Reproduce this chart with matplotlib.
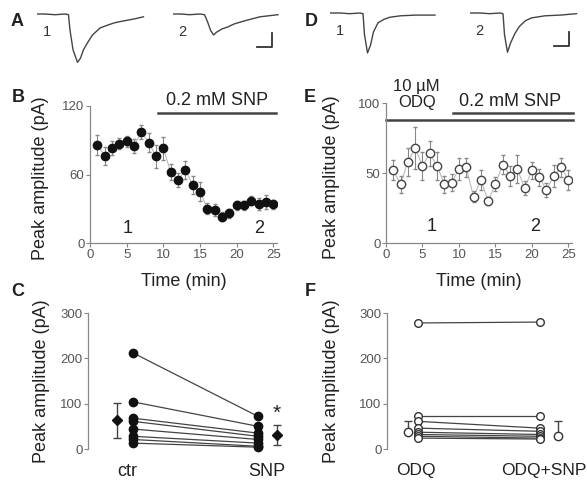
import numpy as np
import matplotlib.pyplot as plt

plt.rcParams['font.family'] = ['Liberation Sans', 'DejaVu Sans']

W, H = 587, 487

# --- example EPSC traces (time in ms, current in pA) ---
a1_t = [0, 5, 12, 19, 21, 22, 24, 27, 29, 31, 34, 37, 42, 47, 51, 55, 60, 65, 71]
a1_i = [0, 0, -1, 0, -1, -23, -51, -69, -63, -51, -40, -30, -20, -16, -13, -11, -9, -7, -4]
a2_t = [0, 5, 11, 18, 21, 23, 25, 27, 29, 33, 36, 41, 49, 58, 70]
a2_i = [0, 0, -1, 0, -1, -11, -23, -30, -26, -21, -19, -14, -9, -4, -1]
d1_t = [0, 7, 13, 20, 22, 23, 25, 27, 29, 32, 36, 40, 47, 57, 70]
d1_i = [0, 0, -1, 0, -1, -31, -57, -46, -27, -14, -9, -6, -4, -3, -3]
d2_t = [0, 7, 13, 20, 22, 23, 25, 27, 30, 33, 37, 41, 50, 60, 71]
d2_i = [0, 0, -1, 0, -1, -31, -56, -43, -29, -19, -11, -7, -4, -3, -1]

# --- time courses ---
time_min = np.arange(1, 26)
b_amp = [86, 76, 83, 87, 89, 85, 97, 88, 76, 83, 62, 55, 64, 51, 45,
         30, 29, 23, 26, 33, 33, 37, 34, 36, 34]
b_err = [9, 8, 6, 5, 5, 6, 6, 8, 10, 10, 7, 6, 8, 8, 8,
         5, 5, 4, 4, 4, 4, 4, 5, 6, 4]
e_amp = [52, 42, 58, 68, 55, 64, 55, 42, 43, 53, 54, 33, 45, 30, 42,
         56, 48, 53, 39, 52, 47, 38, 48, 54, 45]
e_err = [7, 6, 10, 15, 10, 9, 10, 6, 6, 8, 7, 4, 7, 3, 5,
         7, 7, 10, 5, 6, 6, 5, 8, 7, 7]

# --- paired cells ---
c_ctr = [212, 104, 68, 61, 44, 28, 21, 13]
c_snp = [72, 50, 35, 28, 21, 13, 6, 4]
c_mean = [63, 31]
c_sem = [38, 22]
f_odq = [278, 72, 61, 46, 37, 32, 28, 24]
f_snp = [280, 72, 46, 39, 32, 28, 24, 22]
f_mean = [37, 28]
f_sem = [24, 33]

fig = plt.figure(figsize=(W / 100, H / 100), dpi=100)

def box(left, top, right, bottom):
    return [left / W, 1 - bottom / H, (right - left) / W, (bottom - top) / H]

tick_col = '#555555'
spine_col = '#888888'
lab = 13

def style(ax):
    for s in ['top', 'right']:
        ax.spines[s].set_visible(False)
    for s in ['left', 'bottom']:
        ax.spines[s].set_color(spine_col)
        ax.spines[s].set_linewidth(0.9)
    ax.tick_params(colors=spine_col, labelcolor=tick_col, labelsize=9.5,
                   length=3, width=0.8, pad=1)

# --- traces ---
def trace(left, base, t, i, num, scalebar=False):
    ax = fig.add_axes(box(left, base - 3.5, left + 112.5, base + 52.5))
    ax.plot(t, i, color='#444444', lw=1.0)
    ax.set_xlim(0, 75)
    ax.set_ylim(-75, 5)
    ax.axis('off')
    ax.text(6.5, -26, num, fontsize=10.5, color='#333333', va='center',
            ha='center')
    if scalebar:
        x0, y0 = 66, -47
        ax.plot([x0 - 10, x0, x0], [y0, y0, y0 + 20], color='#333333',
                lw=1.3, clip_on=False)

trace(37, 14, a1_t, a1_i, '1')
trace(173, 14, a2_t, a2_i, '2', scalebar=True)
trace(330, 13, d1_t, d1_i, '1')
trace(470, 13, d2_t, d2_i, '2', scalebar=True)

# --- B ---
axb = fig.add_axes(box(90, 106, 277, 243))
style(axb)
axb.errorbar(time_min, b_amp, yerr=b_err, fmt='o', color='#111111', ms=6,
             ecolor='#888888', elinewidth=0.8, capsize=1.5, zorder=3)
axb.plot(time_min, b_amp, color='#bbbbbb', lw=0.8, zorder=1)
axb.set_xlim(0, 25.5)
axb.set_ylim(0, 120)
axb.set_xticks([0, 5, 10, 15, 20, 25])
axb.set_yticks([0, 60, 120])
axb.plot([9.3, 25.4], [113.6, 113.6], color='#444444', lw=1.8, clip_on=False)
axb.text(17.3, 117, '0.2 mM SNP', fontsize=lab, color='#222222',
         ha='center', va='bottom')
axb.text(5.1, 13, '1', fontsize=lab, color='#222222', ha='center', va='center')
axb.text(23.1, 13, '2', fontsize=lab, color='#222222', ha='center', va='center')
axb.set_xlabel('Time (min)', fontsize=lab, color='#222222', labelpad=9)
axb.set_ylabel('Peak amplitude (pA)', fontsize=lab, color='#222222')
axb.yaxis.set_label_coords(-41 / 187, 0.47)

# --- E ---
axe = fig.add_axes(box(386, 103, 572, 243))
style(axe)
axe.errorbar(time_min, e_amp, yerr=e_err, fmt='o', mfc='white', mec='#444444',
             mew=1.0, ms=6, ecolor='#888888', elinewidth=0.8, capsize=1.5,
             zorder=3)
axe.plot(time_min, e_amp, color='#bbbbbb', lw=0.8, zorder=1)
axe.set_xlim(0, 25.5)
axe.set_ylim(0, 100)
axe.set_xticks([0, 5, 10, 15, 20, 25])
axe.set_yticks([0, 50, 100])
axe.plot([0, 25.7], [88, 88], color='#444444', lw=1.8, clip_on=False)
axe.plot([9.25, 25.7], [93, 93], color='#444444', lw=1.8, clip_on=False)
axe.text(4.2, 95, '10 \u00b5M\nODQ', fontsize=12, color='#222222',
         ha='center', va='bottom', linespacing=1.1)
axe.text(17.0, 95, '0.2 mM SNP', fontsize=lab, color='#222222',
         ha='center', va='bottom')
axe.text(6.3, 12, '1', fontsize=lab, color='#222222', ha='center', va='center')
axe.text(20.5, 12, '2', fontsize=lab, color='#222222', ha='center', va='center')
axe.set_xlabel('Time (min)', fontsize=lab, color='#222222', labelpad=9)
axe.set_ylabel('Peak amplitude (pA)', fontsize=lab, color='#222222')
axe.yaxis.set_label_coords(-46 / 186, 0.47)

# --- C ---
axc = fig.add_axes(box(88, 313, 295.5, 449))
style(axc)
axc.spines['bottom'].set_visible(False)
for a, b in zip(c_ctr, c_snp):
    axc.plot([1, 2], [a, b], '-o', color='#444444', lw=0.9, mfc='#111111',
             mec='#111111', ms=6, clip_on=False)
axc.errorbar([0.87, 2.15], c_mean, yerr=c_sem, fmt='D', color='#111111', ms=5,
             ecolor='#444444', elinewidth=1.0, capsize=3, clip_on=False)
axc.text(2.15, c_mean[1] + c_sem[1] + 4, '*', fontsize=15, color='#222222',
         ha='center', va='bottom')
axc.set_xlim(0.64, 2.3)
axc.set_ylim(0, 300)
axc.set_yticks([0, 100, 200, 300])
axc.set_xticks([0.95, 2.07])
axc.set_xticklabels(['ctr', 'SNP'], fontsize=lab, color='#222222')
axc.tick_params(axis='x', length=0, pad=10)
axc.set_ylabel('Peak amplitude (pA)', fontsize=lab, color='#222222')
axc.yaxis.set_label_coords(-38 / 207.5, 0.5)

# --- F ---
axf = fig.add_axes(box(387, 313, 576.6, 449))
style(axf)
axf.spines['bottom'].set_visible(False)
for a, b in zip(f_odq, f_snp):
    axf.plot([1, 2], [a, b], '-o', color='#444444', lw=0.9, mfc='white',
             mec='#333333', mew=1.0, ms=5.5, clip_on=False)
axf.errorbar([0.92, 2.15], f_mean, yerr=[[0, 0], f_sem], fmt='o', mfc='white',
             mec='#333333', mew=1.0, ms=6, ecolor='#444444', elinewidth=1.0,
             capsize=3, clip_on=False, zorder=3)
axf.set_xlim(0.746, 2.3)
axf.set_ylim(0, 300)
axf.set_yticks([0, 100, 200, 300])
axf.set_xticks([0.98, 2.03])
axf.set_xticklabels(['ODQ', 'ODQ+SNP'], fontsize=12.5, color='#222222')
axf.tick_params(axis='x', length=0, pad=10)
axf.set_ylabel('Peak amplitude (pA)', fontsize=lab, color='#222222')
axf.yaxis.set_label_coords(-47 / 189.6, 0.5)

# --- panel letters ---
for letter, x, y in [('A', 17, 22), ('B', 18, 98), ('C', 18, 292),
                     ('D', 311, 22), ('E', 310, 98), ('F', 310, 292)]:
    fig.text(x / W, 1 - y / H, letter, fontsize=13, fontweight='bold',
             color='#222222', ha='center', va='center')

fig.savefig('out.png', dpi=100)
